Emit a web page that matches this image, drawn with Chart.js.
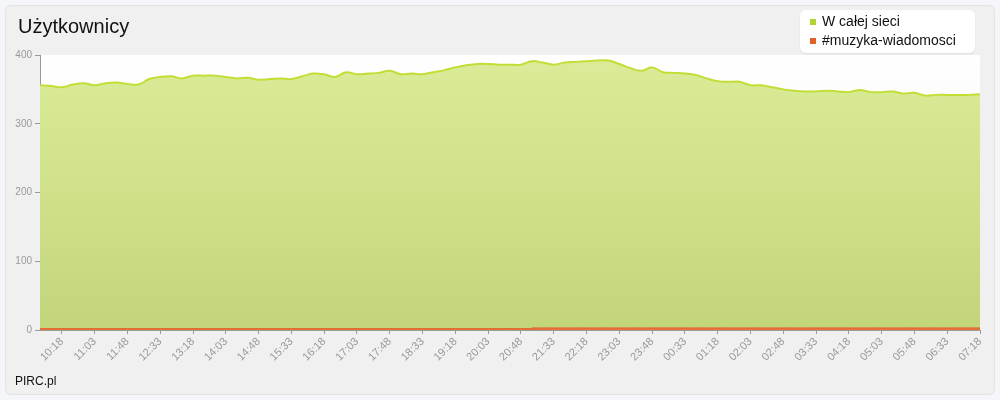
<!DOCTYPE html>
<html>
<head>
<meta charset="utf-8">
<script src="https://cdn.jsdelivr.net/npm/chart.js@4"></script>
<style>
  body { margin: 0; background: #f5f6fa; font-family: "Liberation Sans", Arial, sans-serif; }
  #wrap { position: relative; width: 1000px; height: 400px; }
  .panel { position: absolute; left: 5px; top: 5px; width: 990px; height: 390px; box-sizing: border-box;
           background: #f0f0f0; border: 1px solid #e3e3e3; border-radius: 6px; }
  #canvas { position: absolute; left: 0; top: 0; }
  .title { position: absolute; left: 18px; top: 15px; font-size: 20px; color: #111; }
  .legend { position: absolute; left: 800px; top: 10px; width: 175px; height: 43px; background: #fff;
            border-radius: 6px; box-shadow: 0 1px 2px rgba(0,0,0,0.08); font-size: 14px; color: #111; }
  .legend div { position: absolute; left: 22px; }
  .legend span { position: absolute; left: -12px; top: 6px; width: 6px; height: 6px; }
  .footer { position: absolute; left: 15px; top: 374px; font-size: 12px; color: #111; }
</style>
</head>
<body>
<div id="wrap">
  <div class="panel"></div>
  <canvas id="canvas" width="1000" height="400"></canvas>
  <div class="title">Użytkownicy</div>
  <div class="legend">
    <div style="top:3px"><span style="background:#b3d334"></span>W całej sieci</div>
    <div style="top:22px"><span style="background:#e0602a"></span>#muzyka-wiadomosci</div>
  </div>
  <div class="footer">PIRC.pl</div>
</div>
<script>
// every 15 minutes starting 09:48
var startMinutes = 9 * 60 + 48;
var labelsList = [];
for (var i = 0; i < 87; i++) {
    var m = (startMinutes + i * 15) % 1440;
    var hh = Math.floor(m / 60), mm = m % 60;
    labelsList.push((hh < 10 ? '0' : '') + hh + ':' + (mm < 10 ? '0' : '') + mm);
}

var allUsers = [
    356, 355, 353, 357, 359, 356, 359, 360, 358, 357,
    365, 368, 369, 366, 370, 370, 370, 368, 366, 367,
    364, 365, 366, 365, 369, 373, 372, 368, 375, 372,
    373, 374, 377, 372, 373, 372, 375, 378, 382, 385,
    387, 387, 386, 386, 386, 391, 389, 386, 389, 390,
    391, 392, 392, 387, 381, 377, 382, 375, 374, 373,
    371, 366, 362, 361, 361, 356, 356, 353, 350, 348,
    347, 347, 348, 347, 346, 349, 346, 346, 347, 344,
    345, 341, 342, 342, 342, 342, 343
];

var channelUsers = [];
for (var j = 0; j < 87; j++) {
    channelUsers.push(j < 45 ? 2 : 3);
}

var yTicks = [0, 100, 200, 300, 400];

var plotBg = {
    id: 'plotBg',
    beforeDraw: function(chart) {
        var c = chart.ctx, a = chart.chartArea;
        var g = c.createLinearGradient(0, a.top, 0, a.bottom);
        g.addColorStop(0, '#ffffff');
        g.addColorStop(1, '#eeeeee');
        c.save();
        c.fillStyle = g;
        c.fillRect(a.left, a.top, a.right - a.left, a.bottom - a.top);
        c.restore();
    }
};

function greenFill(context) {
    var chart = context.chart, a = chart.chartArea;
    if (!a) return '#d0e28a';
    var g = chart.ctx.createLinearGradient(0, a.top, 0, a.bottom);
    g.addColorStop(0, '#dbec98');
    g.addColorStop(1, '#c3d57b');
    return g;
}

var ctx = document.getElementById('canvas').getContext('2d');
new Chart(ctx, {
    type: 'line',
    data: {
        labels: labelsList,
        datasets: [{
            label: '#muzyka-wiadomosci',
            data: channelUsers,
            borderColor: '#e0602a',
            backgroundColor: '#e8763a',
            borderWidth: 1,
            pointRadius: 0,
            fill: 'origin',
            stepped: true,
            order: 0
        }, {
            label: 'W całej sieci',
            data: allUsers,
            borderColor: '#c2de34',
            backgroundColor: greenFill,
            borderWidth: 2,
            pointRadius: 0,
            tension: 0.4,
            fill: 'origin',
            order: 1
        }]
    },
    options: {
        responsive: false,
        animation: false,
        layout: { padding: { top: 55, right: 20, left: 0, bottom: 0 } },
        plugins: { legend: { display: false }, tooltip: { enabled: false } },
        scales: {
            x: {
                offset: false,
                border: { color: '#999' },
                grid: { drawOnChartArea: false, tickLength: 4, color: '#999' },
                ticks: {
                    autoSkip: false,
                    maxRotation: 45,
                    minRotation: 45,
                    padding: 1,
                    color: '#999',
                    font: { family: 'Liberation Sans', size: 11 },
                    callback: function(v, idx) {
                        return (idx - 2) % 3 === 0 ? labelsList[idx] : null;
                    }
                },
                afterFit: function(s) { s.height = 70; }
            },
            y: {
                min: 0,
                max: 400,
                border: { color: '#999' },
                grid: { drawOnChartArea: false, tickLength: 5, color: '#999' },
                afterBuildTicks: function(s) {
                    s.ticks = yTicks.map(function(v) { return { value: v }; });
                },
                ticks: {
                    color: '#999',
                    padding: 3,
                    font: { family: 'Liberation Sans', size: 10 }
                },
                afterFit: function(s) { s.width = 40; }
            }
        }
    },
    plugins: [plotBg]
});
</script>
</body>
</html>
